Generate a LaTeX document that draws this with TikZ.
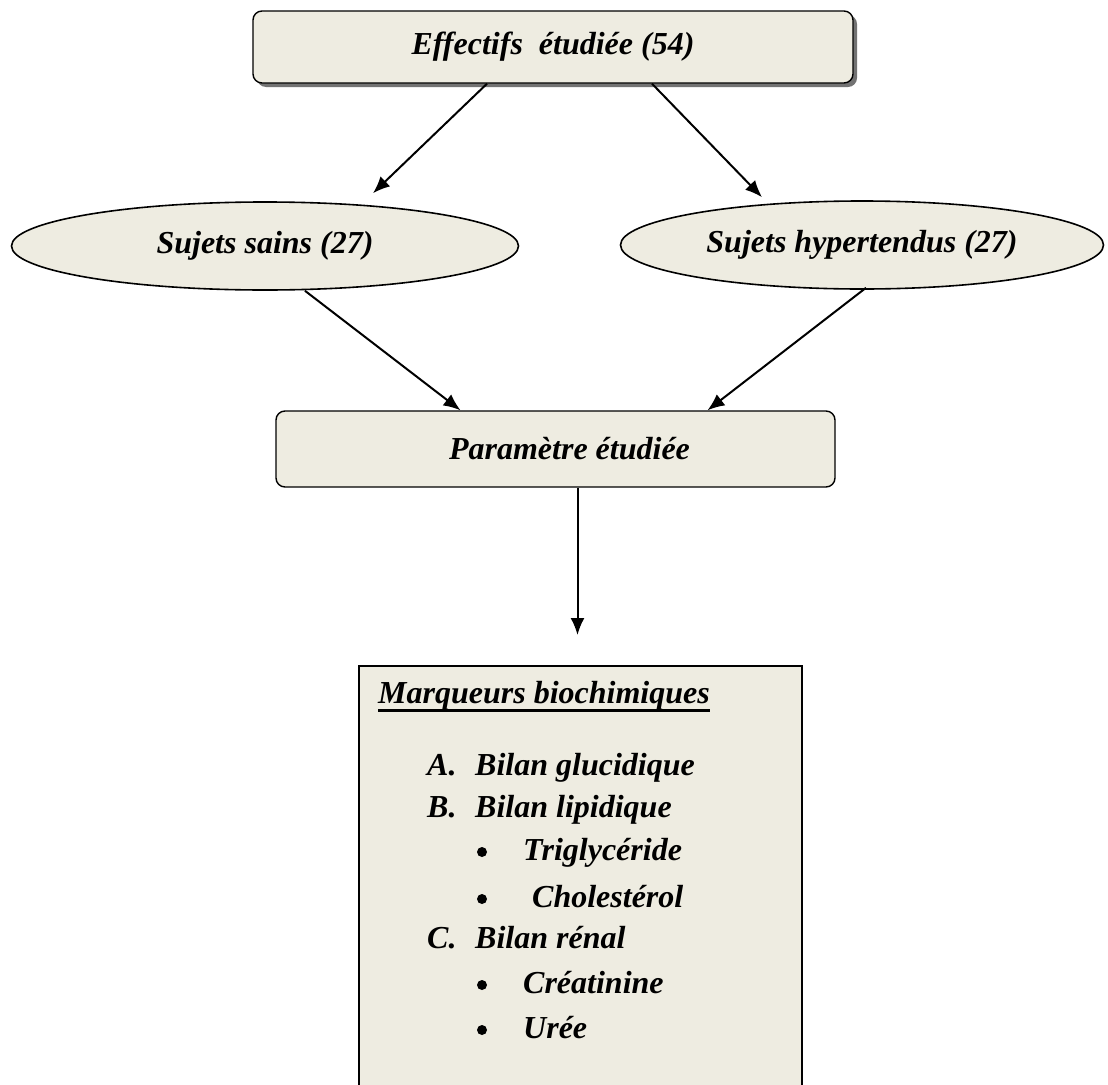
\documentclass[tikz,border=0pt]{standalone}
\usepackage{fontspec}
\setmainfont{Liberation Serif}
\usetikzlibrary{shapes.geometric,shadows,arrows.meta}
\definecolor{boxfill}{HTML}{EEECE1}
\begin{document}
\begin{tikzpicture}[x=1pt,y=-1pt,
  txt/.style={font=\fontsize{32}{38}\selectfont\bfseries\itshape},
  rbox/.style={draw,line width=1.4pt,fill=boxfill,rounded corners=9pt,inner sep=0pt,txt},
  ell/.style={ellipse,draw,line width=1.6pt,fill=boxfill,inner sep=0pt,txt},
  arr/.style={line width=2pt,-{Latex[length=17pt,width=14pt]}},
  itemtxt/.style={txt,anchor=base west,inner sep=0pt},
  bul/.style={circle,fill=black,inner sep=0pt,minimum size=10pt}
]
\useasboundingbox (0,0) rectangle (1108,1084);
% top box
\node[rbox,minimum width=600pt,minimum height=72pt,
  drop shadow={shadow xshift=4pt,shadow yshift=-4pt,fill=black!55,opacity=1}]
  (top) at (553,47) {Effectifs\ \ étudiée (54)};
% ellipses
\node[ell,minimum width=507pt,minimum height=88pt] (left) at (265,246) {Sujets sains (27)};
\node[ell,minimum width=483pt,minimum height=88pt] (right) at (862,245) {Sujets hypertendus (27)};
% middle box
\node[rbox,minimum width=559pt,minimum height=76pt] (mid) at (555.5,449) {\hspace*{28pt}Paramètre étudiée};
% bottom box
\node[draw,line width=1.8pt,fill=boxfill,anchor=north west,minimum width=443pt,minimum height=440pt,inner sep=0pt] (bot) at (358,665) {};
% arrows
\draw[arr] ([xshift=-66pt]top.south) -- ([xshift=108pt,yshift=8pt]left.north);
\draw[arr] ([xshift=99pt]top.south) -- ([xshift=-100pt,yshift=3pt]right.north);
\draw[arr] ([xshift=40pt]left.south) -- ([xshift=-95pt]mid.north);
\draw[arr] ([xshift=4pt,yshift=2pt]right.south) -- ([xshift=152pt]mid.north);
\draw[arr] ([xshift=22pt]mid.south) -- ([xshift=22pt,yshift=30pt]mid.south |- bot.north);
% bottom box text
\node[itemtxt] (mq) at (378,703) {Marqueurs biochimiques};
\draw[line width=3pt] ([yshift=-7pt]mq.base west) -- ([yshift=-7pt]mq.base east);
\node[itemtxt] (la) at (427,775) {A.};
\node[itemtxt] (ta) at (475,775) {Bilan glucidique};
\node[itemtxt] (lb) at (427,817) {B.};
\node[itemtxt] (tb) at (475,817) {Bilan lipidique};
\node[bul] (b1) at (482,852) {};
\node[itemtxt] (t1) at (523,860) {Triglycéride};
\node[bul] (b2) at (482,899) {};
\node[itemtxt] (t2) at (532,907) {Cholestérol};
\node[itemtxt] (lc) at (427,948) {C.};
\node[itemtxt] (tc) at (475,948) {Bilan rénal};
\node[bul] (b3) at (482,985) {};
\node[itemtxt] (t3) at (523,993) {Créatinine};
\node[bul] (b4) at (482,1030) {};
\node[itemtxt] (t4) at (523,1038) {Urée};
\end{tikzpicture}
\end{document}
